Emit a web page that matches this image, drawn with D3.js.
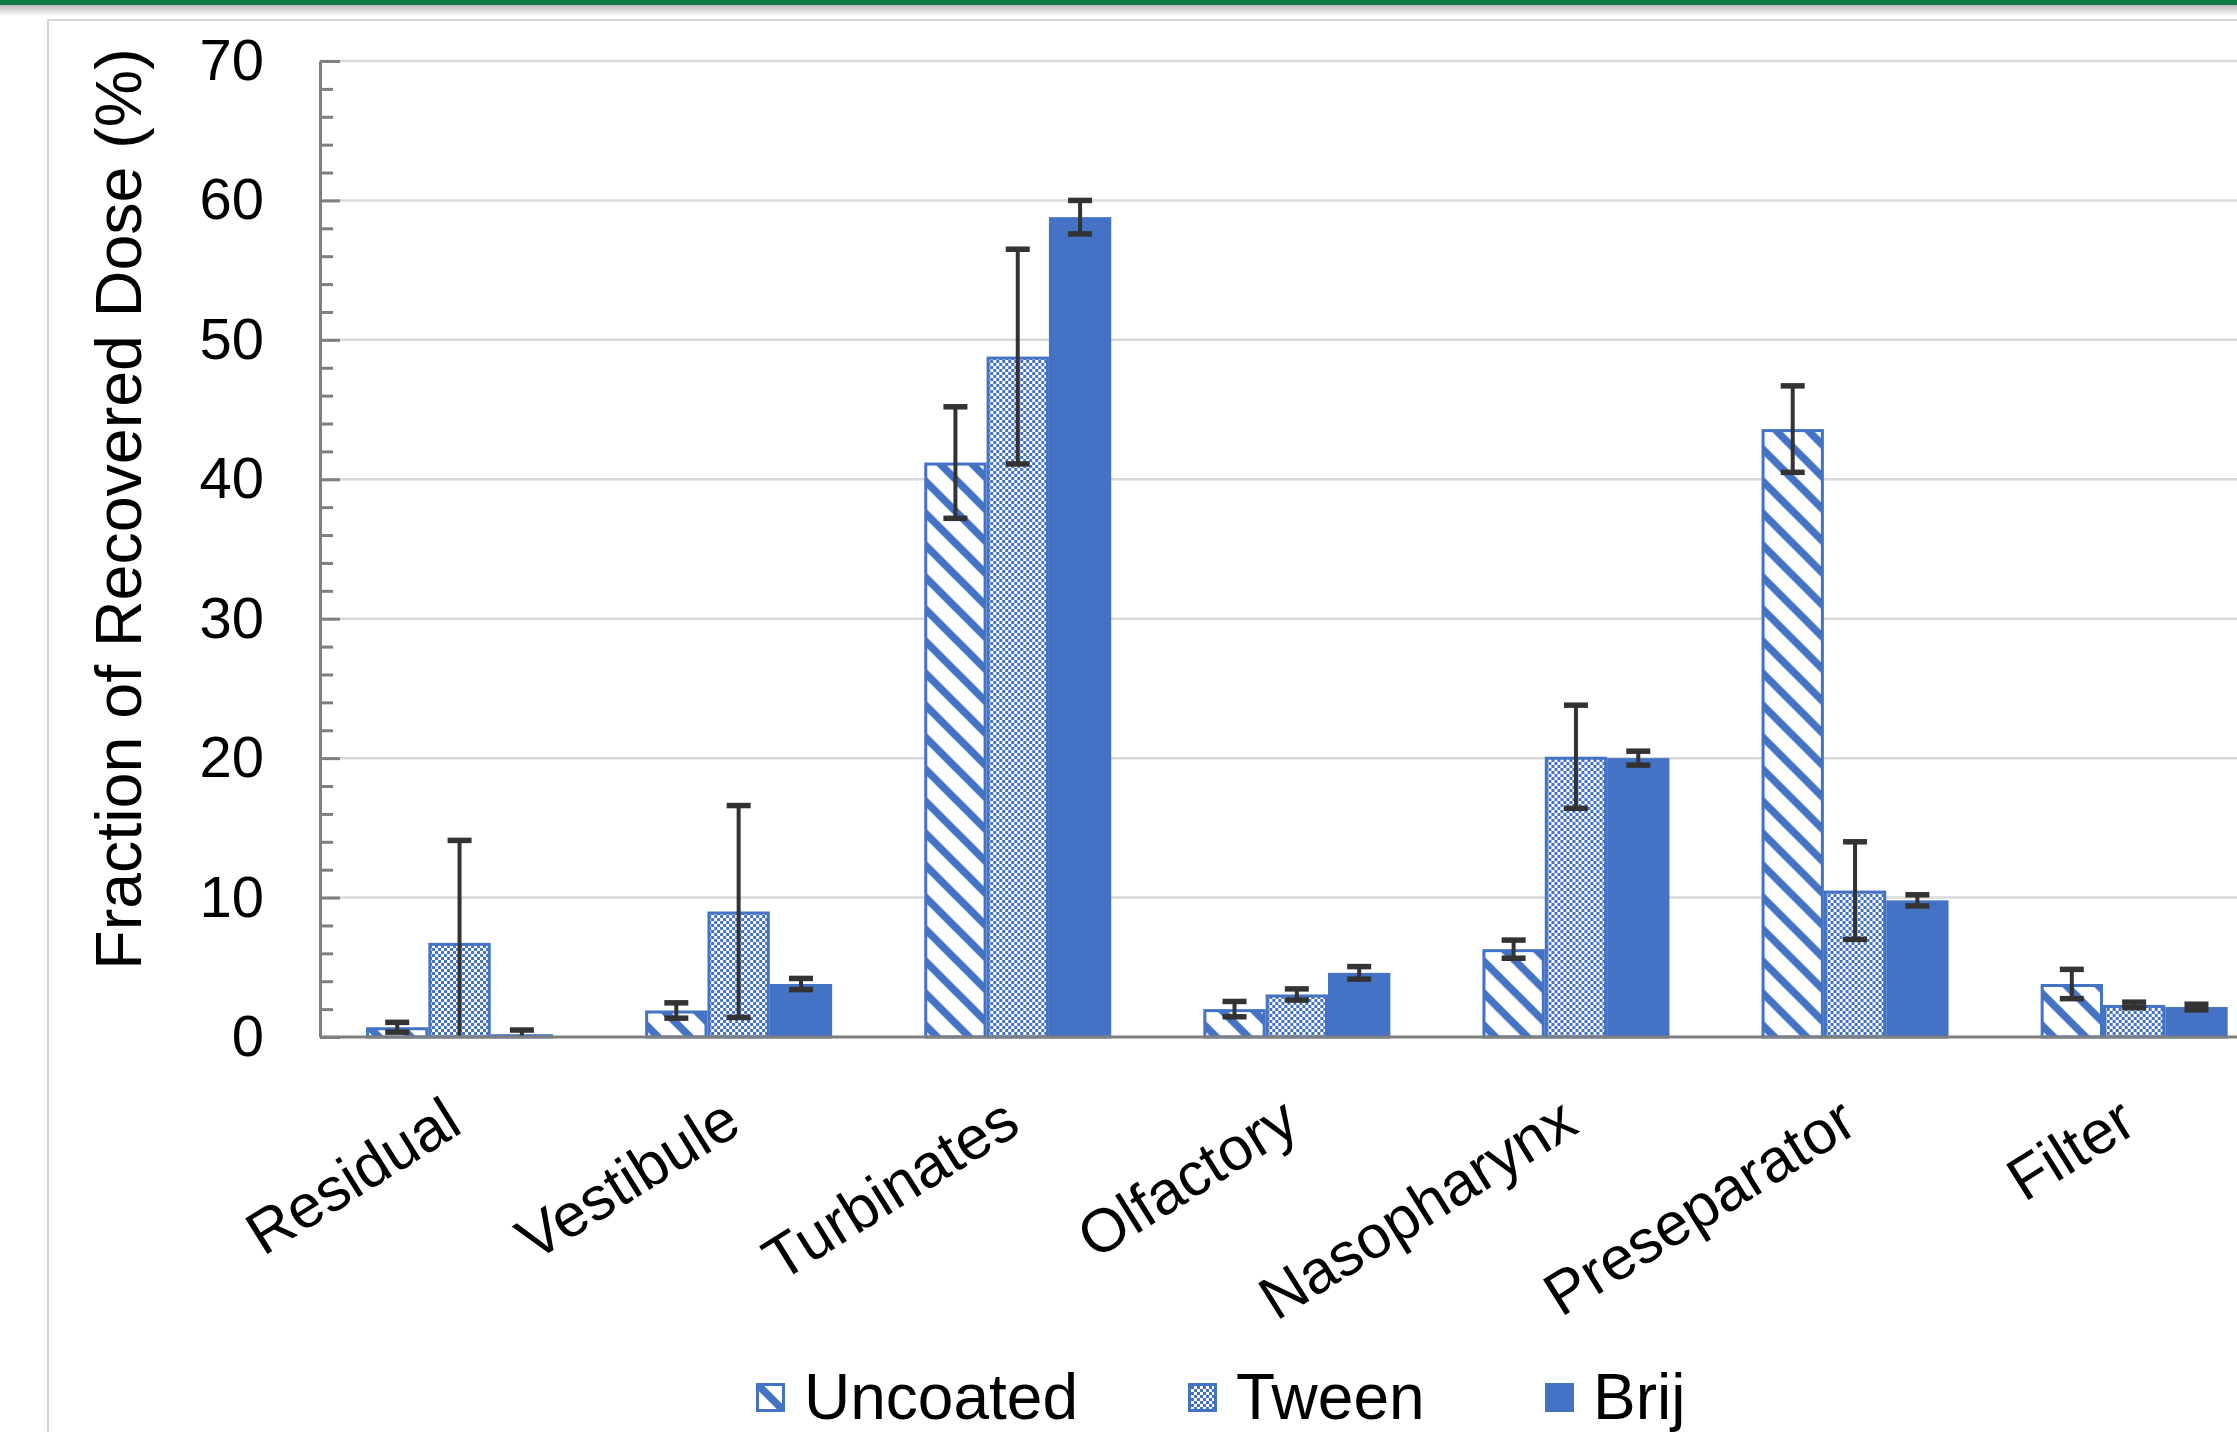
<!DOCTYPE html>
<html>
<head>
<meta charset="utf-8">
<script src="https://cdn.jsdelivr.net/npm/d3@7"></script>
<style>
  html, body { margin: 0; padding: 0; background: #ffffff; }
  svg { display: block; }
  text { font-family: "Liberation Sans", Arial, sans-serif; fill: #000; }
</style>
</head>
<body>
<svg id="chart" width="2237" height="1432"></svg>
<script>
// ---------- data ----------
const categories = ["Residual", "Vestibule", "Turbinates", "Olfactory", "Nasopharynx", "Preseparator", "Filter"];
const seriesNames = ["Uncoated", "Tween", "Brij"];
const uncoatedValues = [0.7, 1.9, 41.2, 2.0, 6.3, 43.6, 3.8];
const uncoatedErrors = [0.35, 0.55, 4.0, 0.55, 0.65, 3.1, 1.05];
const tweenValues = [6.75, 9.0, 48.8, 3.05, 20.1, 10.5, 2.3];
const tweenErrors = [7.35, 7.6, 7.7, 0.4, 3.7, 3.5, 0.2];
const brijValues = [0.2, 3.8, 58.8, 4.6, 20.0, 9.8, 2.15];
const brijErrors = [0.3, 0.4, 1.2, 0.45, 0.5, 0.4, 0.2];
const yTickValues = [0, 10, 20, 30, 40, 50, 60, 70];
const yMinorTickValues = [2, 4, 6, 8, 12, 14, 16, 18, 22, 24, 26, 28, 32, 34, 36, 38, 42, 44, 46, 48, 52, 54, 56, 58, 62, 64, 66, 68];
const yTitle = "Fraction of Recovered Dose (%)";

const seriesValues = { Uncoated: uncoatedValues, Tween: tweenValues, Brij: brijValues };
const seriesErrors = { Uncoated: uncoatedErrors, Tween: tweenErrors, Brij: brijErrors };

// ---------- layout ----------
const W = 2237, H = 1432;
const blue = "#4472C4";
const svg = d3.select("#chart");
const defs = svg.append("defs");

// patterns
const P = 32;
const stripe = defs.append("pattern").attr("id", "pStripe")
  .attr("patternUnits", "userSpaceOnUse").attr("width", P).attr("height", P);
stripe.append("rect").attr("width", P).attr("height", P).attr("fill", "#fff");
stripe.append("path")
  .attr("d", `M${-P},${-P} L${2 * P},${2 * P} M${-P},0 L${P},${2 * P} M0,${-P} L${2 * P},${P}`)
  .attr("stroke", blue).attr("stroke-width", 7.5).attr("fill", "none");

const C = 3;
const check = defs.append("pattern").attr("id", "pCheck")
  .attr("patternUnits", "userSpaceOnUse").attr("width", 2 * C).attr("height", 2 * C);
check.append("rect").attr("width", 2 * C).attr("height", 2 * C).attr("fill", "#fff");
check.append("rect").attr("width", C).attr("height", C).attr("fill", blue);
check.append("rect").attr("x", C).attr("y", C).attr("width", C).attr("height", C).attr("fill", blue);

const fills = { Uncoated: "url(#pStripe)", Tween: "url(#pCheck)", Brij: blue };

// top green band and shadow
const grad = defs.append("linearGradient").attr("id", "shadow").attr("x1", 0).attr("y1", 0).attr("x2", 0).attr("y2", 1);
grad.append("stop").attr("offset", 0).attr("stop-color", "#b9b9b9");
grad.append("stop").attr("offset", 1).attr("stop-color", "#ffffff");
svg.append("rect").attr("x", 0).attr("y", 5).attr("width", W).attr("height", 11).attr("fill", "url(#shadow)");
svg.append("rect").attr("x", 0).attr("y", 0).attr("width", W).attr("height", 5).attr("fill", "#0b7b43");

// chart area border
svg.append("rect").attr("x", 48).attr("y", 20).attr("width", 2400).attr("height", 1600)
  .attr("fill", "none").attr("stroke", "#d6d6d6").attr("stroke-width", 2);

// scales
const x0 = d3.scaleBand().domain(categories).range([320, 320 + 7 * 279.1])
  .paddingInner(0.33).paddingOuter(0.165);
const x1 = d3.scaleBand().domain(seriesNames).range([0, x0.bandwidth()]);
const y = d3.scaleLinear().domain([0, 70]).range([1037, 61]);

// gridlines
svg.append("g").selectAll("line").data(yTickValues.filter(d => d > 0)).join("line")
  .attr("x1", 320).attr("x2", W).attr("y1", d => y(d)).attr("y2", d => y(d))
  .attr("stroke", "#d9d9d9").attr("stroke-width", 2.5);

// bars
const groups = svg.append("g").selectAll("g").data(categories).join("g")
  .attr("transform", d => `translate(${x0(d)},0)`);
groups.each(function(cat, ci) {
  const g = d3.select(this);
  seriesNames.forEach(s => {
    const v = seriesValues[s][ci];
    const bx = x1(s), bw = x1.bandwidth();
    g.append("rect")
      .attr("x", bx + 1.5).attr("width", bw - 3)
      .attr("y", y(v) + 1.5).attr("height", Math.max(0, y(0) - y(v) - 1.5))
      .attr("fill", fills[s])
      .attr("stroke", blue).attr("stroke-width", 3);
  });
});

// x axis baseline
svg.append("line").attr("x1", 320).attr("x2", W).attr("y1", y(0)).attr("y2", y(0))
  .attr("stroke", "#7f7f7f").attr("stroke-width", 3);

// error bars
groups.each(function(cat, ci) {
  const g = d3.select(this);
  seriesNames.forEach(s => {
    const v = seriesValues[s][ci], e = seriesErrors[s][ci];
    const cx = x1(s) + x1.bandwidth() / 2;
    const hi = v + e, lo = Math.max(0, v - e);
    const eg = g.append("g").attr("stroke", "#333333");
    eg.append("line").attr("x1", cx).attr("x2", cx).attr("y1", y(hi)).attr("y2", y(lo)).attr("stroke-width", 4);
    eg.append("line").attr("x1", cx - 12).attr("x2", cx + 12).attr("y1", y(hi)).attr("y2", y(hi)).attr("stroke-width", 5.5);
    if (v - e >= 0) {
      eg.append("line").attr("x1", cx - 12).attr("x2", cx + 12).attr("y1", y(lo)).attr("y2", y(lo)).attr("stroke-width", 5.5);
    }
  });
});

// y axis
const yAxis = d3.axisLeft(y).tickValues(yTickValues).tickSize(-20).tickSizeOuter(0).tickPadding(56);
const ya = svg.append("g").attr("transform", "translate(320,0)").call(yAxis);
ya.select(".domain").attr("stroke", "#7f7f7f").attr("stroke-width", 3);
ya.selectAll(".tick line").attr("stroke", "#7f7f7f").attr("stroke-width", 3);
ya.selectAll(".tick text").attr("font-size", 58).attr("font-family", "Liberation Sans, Arial, sans-serif").attr("fill", "#000");
const yMinor = d3.axisLeft(y).tickValues(yMinorTickValues).tickSize(-13).tickSizeOuter(0).tickFormat("");
const ym = svg.append("g").attr("transform", "translate(320,0)").call(yMinor);
ym.select(".domain").remove();
ym.selectAll(".tick line").attr("stroke", "#7f7f7f").attr("stroke-width", 3);

// y title
svg.append("text").attr("transform", "translate(141,509) rotate(-90)")
  .attr("text-anchor", "middle").attr("font-size", 64.5).text(yTitle);

// category labels
svg.append("g").selectAll("text").data(categories).join("text")
  .attr("transform", d => `translate(${x0(d) + x0.bandwidth() / 2 + 5},1131) rotate(-32)`)
  .attr("text-anchor", "end").attr("font-size", 61).text(d => d);

// legend
const legendX = [756, 1188, 1545];
const lg = svg.append("g").selectAll("g").data(seriesNames).join("g")
  .attr("transform", (d, i) => `translate(${legendX[i]},1383)`);
lg.append("rect").attr("x", 1.5).attr("y", 1.5).attr("width", 26).attr("height", 26)
  .attr("fill", d => fills[d]).attr("stroke", blue).attr("stroke-width", 3);
lg.append("text").attr("x", 48).attr("y", 36).attr("font-size", 64).text(d => d);
</script>
</body>
</html>
